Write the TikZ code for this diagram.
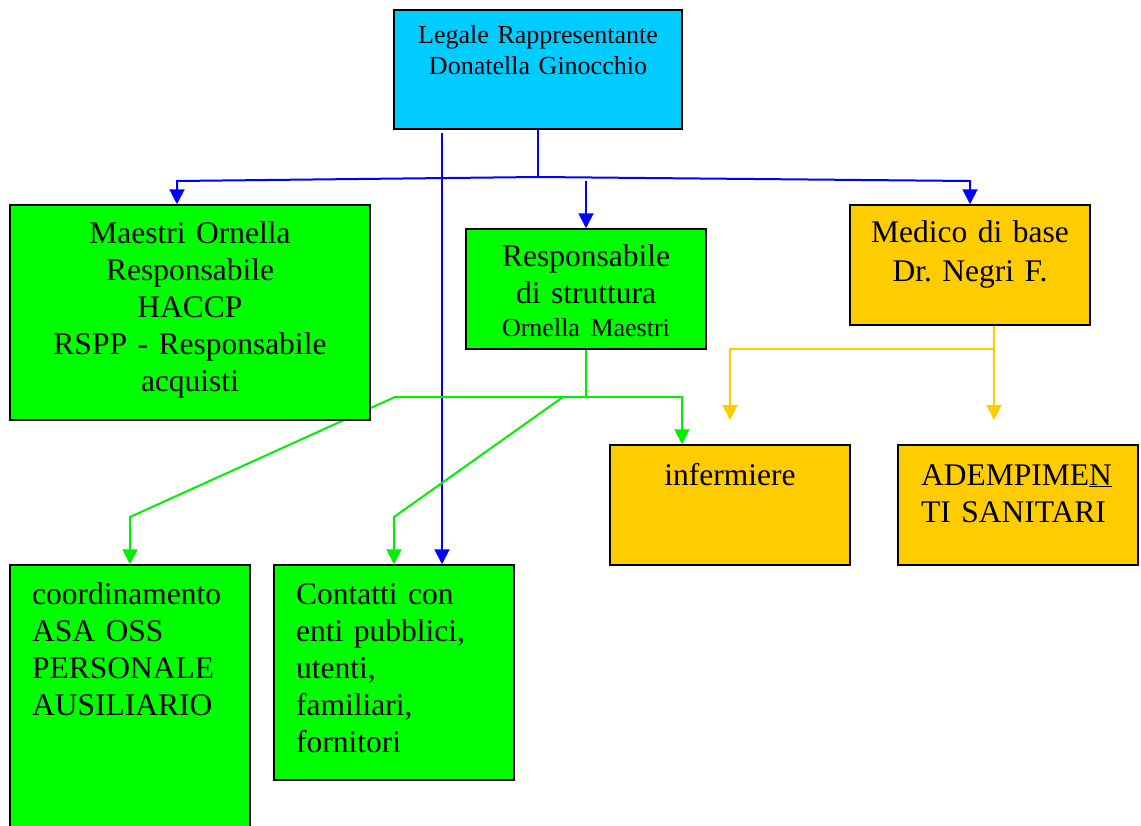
\documentclass[tikz,border=0pt]{standalone}
\usepackage{fontspec}
\setmainfont{Liberation Serif}
\usetikzlibrary{arrows.meta,backgrounds}
\definecolor{boxcyan}{HTML}{00CCFF}
\definecolor{boxgreen}{HTML}{00FF00}
\definecolor{boxgold}{HTML}{FFCC00}
\definecolor{linkblue}{HTML}{0000FF}
\definecolor{linkgreen}{HTML}{00F000}
\definecolor{linkgold}{HTML}{FFCC00}
\frenchspacing
\begin{document}
\begin{tikzpicture}[x=1pt,y=-1pt,
  orgbox/.style={draw=black, line width=1.5pt, inner sep=0pt,
                 minimum width=240pt, minimum height=120pt},
  big/.style={font=\fontsize{31.5}{37}\selectfont},
  small/.style={font=\fontsize{26}{31}\selectfont},
  ctext/.style={anchor=base, inner sep=0pt, align=center, text width=#1},
  ltext/.style={anchor=base west, inner sep=0pt, align=left, text width=#1},
  link/.style={line width=2pt, -{Triangle[width=15pt,length=15pt]}},
  plain/.style={line width=2pt}]

\useasboundingbox (0,0) rectangle (1141,825);

% boxes
\node[orgbox, fill=boxcyan, minimum width=288pt, minimum height=119pt] (top) at (538,69.5) {};
\node[orgbox, fill=boxgreen, minimum width=360pt, minimum height=215pt] (maestri) at (190,312.5) {};
\node[orgbox, fill=boxgreen] (resp) at (586,289) {};
\node[orgbox, fill=boxgold] (medico) at (970,265) {};
\node[orgbox, fill=boxgold] (inferm) at (730,505) {};
\node[orgbox, fill=boxgold] (adem) at (1018,505) {};
\node[orgbox, fill=boxgreen, minimum height=270pt] (coord) at (130,700) {};
\node[orgbox, fill=boxgreen, minimum height=215pt] (contatti) at (394,672.5) {};

% box texts
\node[small, ctext=280pt] (toptxt) at (538,43) {Legale Rappresentante\\Donatella Ginocchio};
\node[big, ctext=350pt] (maestritxt) at (190,243)
  {Maestri Ornella\\Responsabile\\HACCP\\RSPP - Responsabile\\acquisti};
\node[big, ctext=236pt] (resptxt) at (586,266.7)
  {Responsabile\\di struttura\\[-4pt]{\fontsize{26}{31}\selectfont Ornella Maestri}};
\node[font=\fontsize{31.5}{39}\selectfont, ctext=236pt] (medicotxt) at (970,242.7)
  {Medico di base\\Dr. Negri F.};
\node[big, ctext=236pt] (infermtxt) at (730,485) {infermiere};
\node[big, ltext=215pt] (ademtxt) at (921,485) {ADEMPIME\underline{N}\\TI SANITARI};
\node[big, ltext=225pt] (coordtxt) at (32,604)
  {coordinamento\\ASA OSS\\PERSONALE\\AUSILIARIO};
\node[big, ltext=215pt] (contattitxt) at (296,604)
  {Contatti con\\enti pubblici,\\utenti,\\familiari,\\fornitori};

% connectors, drawn beneath the boxes
\begin{pgfonlayer}{background}
  % blue: from the legal representative
  \coordinate (bj) at (538,177);
  \coordinate (bl) at (177,181);
  \coordinate (br) at (970,181);
  \draw[plain, linkblue] (top.south) -- (bj);
  \draw[link, linkblue] (bj) -- (bl) -- (177,0 |- maestri.north);
  \draw[link, linkblue] (bj) -- (br) -- (medico.north);
  \draw[link, linkblue] (586,181) -- (resp.north);
  \draw[link, linkblue] (442,133) -- (442,0 |- contatti.north);

  % green: from the structure manager
  \coordinate (gj) at (586,397);
  \coordinate (gl) at (395,397);
  \coordinate (gm) at (563,397);
  \draw[plain, linkgreen] (resp.south) -- (gj);
  \draw[link, linkgreen] (gj) -- (682,397) -- (682,0 |- inferm.north);
  \draw[link, linkgreen] (gj) -- (gl) -- (130,517) -- (130,0 |- coord.north);
  \draw[link, linkgreen] (gm) -- (394,517) -- (394,0 |- contatti.north);

  % gold: from the general practitioner
  \coordinate (yj) at (994,349);
  \draw[plain, linkgold] (994,0 |- medico.south) -- (yj);
  \draw[link, linkgold] (yj) -- (730,349) -- (730,420);
  \draw[link, linkgold] (yj) -- (994,420);
\end{pgfonlayer}
\end{tikzpicture}
\end{document}
